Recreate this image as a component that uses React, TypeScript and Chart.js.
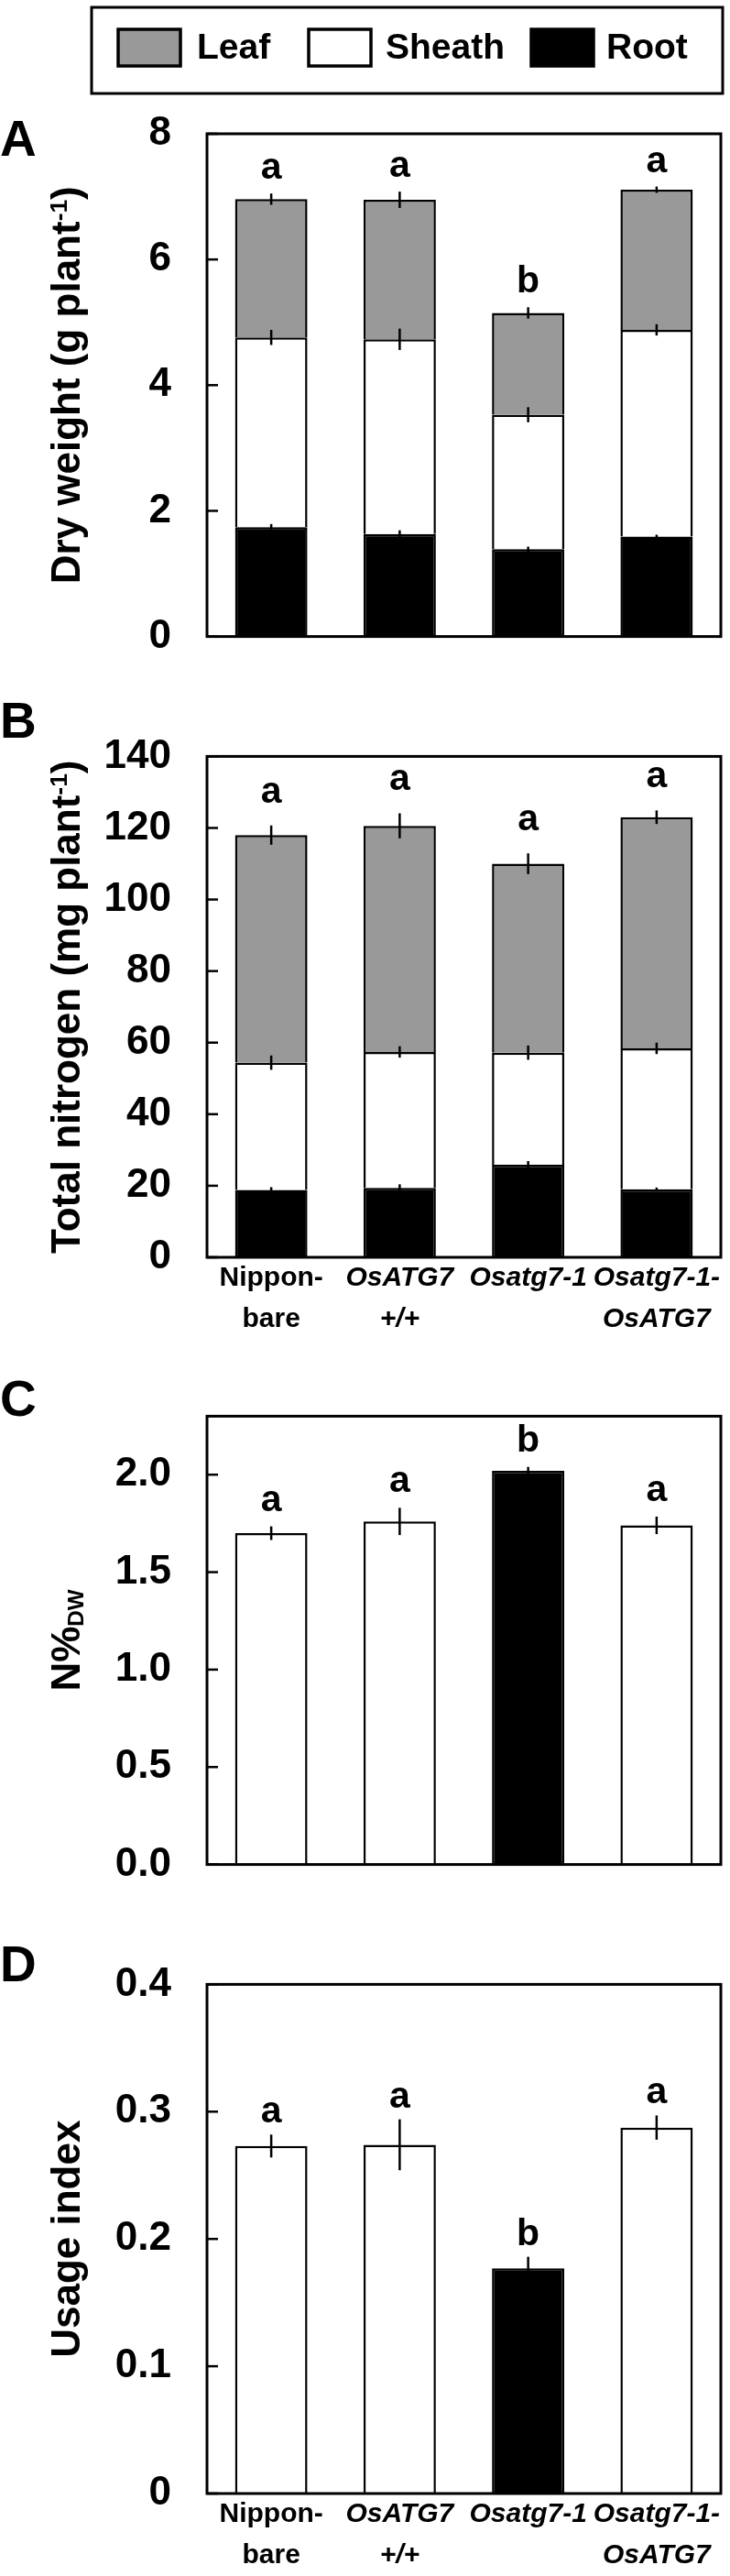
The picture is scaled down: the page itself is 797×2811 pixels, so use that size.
import React, { useEffect, useRef } from 'react';
import { Chart, registerables } from 'chart.js';

Chart.register(...registerables);

const FONT = '"Liberation Sans", Arial, Helvetica, sans-serif';

// ---------- shared categories ----------
const CATEGORIES: string[][] = [['Nippon-', 'bare'], ['OsATG7', '+/+'], ['Osatg7-1'], ['Osatg7-1-', 'OsATG7']];
const CATEGORY_ITALIC = [false, true, true, true];

const ORGANS = ['Root', 'Sheath', 'Leaf'];
const ORGAN_COLORS = ['#000000', '#ffffff', '#999999'];

// ---------- Panel A: dry weight (g plant-1) ----------
const DW_ROOT = [1.74, 1.63, 1.39, 1.59];
const DW_SHEATH = [3.02, 3.1, 2.14, 3.29];
const DW_LEAF = [2.2, 2.22, 1.62, 2.23];
const DW_ROOT_ERR = [0.05, 0.06, 0.04, 0.03];
const DW_SHEATH_ERR = [0.12, 0.17, 0.12, 0.09];
const DW_LEAF_ERR = [0.09, 0.13, 0.09, 0.05];
const DW_LETTERS = ['a', 'a', 'b', 'a'];
const DW_TICKS = [0, 2, 4, 6, 8];
const DW_TICK_LABELS = ['0', '2', '4', '6', '8'];

// ---------- Panel B: total nitrogen (mg plant-1) ----------
const TN_ROOT = [18.8, 19.4, 25.9, 19.0];
const TN_SHEATH = [35.6, 38.0, 31.3, 39.4];
const TN_LEAF = [63.6, 63.2, 52.8, 64.6];
const TN_ROOT_ERR = [0.8, 1.0, 1.0, 0.5];
const TN_SHEATH_ERR = [2.0, 1.6, 2.0, 1.6];
const TN_LEAF_ERR = [2.7, 3.5, 2.9, 1.9];
const TN_LETTERS = ['a', 'a', 'a', 'a'];
const TN_TICKS = [0, 20, 40, 60, 80, 100, 120, 140];
const TN_TICK_LABELS = ['0', '20', '40', '60', '80', '100', '120', '140'];

// ---------- Panel C: N%DW ----------
const NDW = [1.7, 1.76, 2.02, 1.74];
const NDW_ERR = [0.035, 0.07, 0.02, 0.045];
const NDW_LETTERS = ['a', 'a', 'b', 'a'];
const NDW_TICKS = [0, 0.5, 1.0, 1.5, 2.0];
const NDW_TICK_LABELS = ['0.0', '0.5', '1.0', '1.5', '2.0'];
const NDW_MAX = 2.3;

// ---------- Panel D: usage index ----------
const USAGE = [0.273, 0.274, 0.177, 0.2875];
const USAGE_ERR = [0.009, 0.02, 0.009, 0.0095];
const USAGE_LETTERS = ['a', 'a', 'b', 'a'];
const USAGE_TICKS = [0, 0.1, 0.2, 0.3, 0.4];
const USAGE_TICK_LABELS = ['0', '0.1', '0.2', '0.3', '0.4'];

const SINGLE_COLORS = ['#ffffff', '#ffffff', '#000000', '#ffffff'];

type Part = { text: string; scale?: number; shift?: number };

interface Decor {
  ticks: number[];
  errors: number[][];
  letters: string[];
  letterGap: number;
  title: Part[];
  panel: string;
  panelY: number;
  legend?: boolean;
}

function drawVerticalTitle(ctx: CanvasRenderingContext2D, parts: Part[], cx: number, cy: number, size: number) {
  ctx.save();
  ctx.translate(cx, cy);
  ctx.rotate(-Math.PI / 2);
  ctx.textAlign = 'left';
  ctx.textBaseline = 'alphabetic';
  const widths = parts.map((p) => {
    ctx.font = `bold ${size * (p.scale ?? 1)}px ${FONT}`;
    return ctx.measureText(p.text).width;
  });
  const total = widths.reduce((s, w) => s + w, 0);
  let x = -total / 2;
  const base = size * 0.35;
  parts.forEach((p, i) => {
    ctx.font = `bold ${size * (p.scale ?? 1)}px ${FONT}`;
    ctx.fillText(p.text, x, base + (p.shift ?? 0) * size);
    x += widths[i];
  });
  ctx.restore();
}

function decorPlugin(d: Decor) {
  return {
    id: 'decor',
    afterDatasetsDraw(chart: any) {
      const { ctx, chartArea: a } = chart;
      const y = chart.scales.y;
      ctx.save();
      ctx.strokeStyle = '#000';
      ctx.fillStyle = '#000';
      // error bars
      ctx.lineWidth = 2.5;
      const n = chart.data.labels.length;
      const totals: number[] = new Array(n).fill(0);
      chart.data.datasets.forEach((ds: any, k: number) => {
        const meta = chart.getDatasetMeta(k);
        ds.data.forEach((v: number, i: number) => {
          totals[i] += v;
          const e = d.errors[k][i];
          const x = meta.data[i].x;
          ctx.beginPath();
          ctx.moveTo(x, y.getPixelForValue(totals[i] + e));
          ctx.lineTo(x, y.getPixelForValue(totals[i] - e));
          ctx.stroke();
        });
      });
      // significance letters
      const lastErr = d.errors[d.errors.length - 1];
      const meta0 = chart.getDatasetMeta(0);
      ctx.font = `bold 41px ${FONT}`;
      ctx.textAlign = 'center';
      ctx.textBaseline = 'alphabetic';
      d.letters.forEach((L, i) => {
        const py = y.getPixelForValue(totals[i] + lastErr[i]) - d.letterGap;
        ctx.fillText(L, meta0.data[i].x, py);
      });
      // frame
      ctx.lineWidth = 3;
      ctx.strokeRect(a.left, a.top, a.right - a.left, a.bottom - a.top);
      // inward ticks
      ctx.lineWidth = 2.5;
      d.ticks.forEach((v) => {
        const py = y.getPixelForValue(v);
        ctx.beginPath();
        ctx.moveTo(a.left, py);
        ctx.lineTo(a.left + 12, py);
        ctx.stroke();
      });
      // axis title
      drawVerticalTitle(ctx, d.title, 72, (a.top + a.bottom) / 2, 44);
      // panel label
      ctx.font = `bold 55px ${FONT}`;
      ctx.textAlign = 'left';
      ctx.textBaseline = 'middle';
      ctx.fillText(d.panel, 0, d.panelY);
      // legend
      if (d.legend) {
        ctx.lineWidth = 3;
        ctx.strokeRect(100, 8, 689, 94);
        const swatchX = [129, 337, 580];
        const textX = [215, 421, 662];
        const items = chart.data.datasets.slice().reverse();
        items.forEach((ds: any, j: number) => {
          ctx.fillStyle = ds.backgroundColor;
          ctx.fillRect(swatchX[j], 32, 68, 40);
          ctx.strokeStyle = '#000';
          ctx.lineWidth = 3.5;
          ctx.strokeRect(swatchX[j], 32, 68, 40);
          ctx.fillStyle = '#000';
          ctx.font = `bold 39px ${FONT}`;
          ctx.textAlign = 'left';
          ctx.textBaseline = 'middle';
          ctx.fillText(ds.label, textX[j], 53);
        });
      }
      ctx.restore();
    },
  };
}

interface PanelSpec {
  datasets: { label: string; data: number[]; backgroundColor: any }[];
  stacked: boolean;
  max: number;
  ticks: number[];
  tickLabels: string[];
  showX: boolean;
  xHeight: number;
  padding: { top: number; right: number; bottom: number; left: number };
  decor: Decor;
}

function buildConfig(p: PanelSpec): any {
  return {
    type: 'bar',
    data: {
      labels: CATEGORIES,
      datasets: p.datasets.map((ds) => ({
        ...ds,
        borderColor: '#000000',
        borderWidth: 2.5,
        barPercentage: 0.563,
        categoryPercentage: 1.0,
      })),
    },
    options: {
      responsive: false,
      animation: false,
      events: [],
      layout: { padding: p.padding },
      plugins: { legend: { display: false }, tooltip: { enabled: false } },
      scales: {
        x: {
          type: 'category',
          stacked: p.stacked,
          offset: true,
          display: p.showX,
          grid: { display: false, drawTicks: false },
          border: { display: false },
          ticks: {
            autoSkip: false,
            maxRotation: 0,
            minRotation: 0,
            padding: 0,
            color: '#000',
            font: (c: any) => ({
              family: FONT,
              size: 30,
              weight: 'bold',
              style: CATEGORY_ITALIC[c.index] ? 'italic' : 'normal',
              lineHeight: 1.5,
            }),
          },
          afterFit: (s: any) => {
            if (p.showX) s.height = p.xHeight;
          },
        },
        y: {
          stacked: p.stacked,
          min: 0,
          max: p.max,
          grid: { display: false, drawTicks: false },
          border: { display: false },
          afterBuildTicks: (s: any) => {
            s.ticks = p.ticks.map((v) => ({ value: v }));
          },
          ticks: {
            padding: 39,
            color: '#000',
            font: { family: FONT, size: 44, weight: 'bold' },
            callback: (v: number) => p.tickLabels[p.ticks.indexOf(v)],
          },
          afterFit: (s: any) => {
            s.width = 226;
          },
        },
      },
    },
    plugins: [decorPlugin(p.decor)],
  };
}

function Panel({ top, height, spec }: { top: number; height: number; spec: PanelSpec }) {
  const ref = useRef<HTMLCanvasElement | null>(null);
  useEffect(() => {
    if (!ref.current) return;
    const chart = new Chart(ref.current, buildConfig(spec));
    return () => chart.destroy();
  }, []);
  return (
    <canvas
      ref={ref}
      width={797}
      height={height}
      style={{ position: 'absolute', left: 0, top, width: 797, height, display: 'block' }}
    />
  );
}

const stacked = (root: number[], sheath: number[], leaf: number[]) => [
  { label: ORGANS[0], data: root, backgroundColor: ORGAN_COLORS[0] },
  { label: ORGANS[1], data: sheath, backgroundColor: ORGAN_COLORS[1] },
  { label: ORGANS[2], data: leaf, backgroundColor: ORGAN_COLORS[2] },
];

const SPEC_A: PanelSpec = {
  datasets: stacked(DW_ROOT, DW_SHEATH, DW_LEAF),
  stacked: true,
  max: 8,
  ticks: DW_TICKS,
  tickLabels: DW_TICK_LABELS,
  showX: false,
  xHeight: 0,
  padding: { top: 146, right: 10, bottom: 28, left: 0 },
  decor: {
    ticks: DW_TICKS,
    errors: [DW_ROOT_ERR, DW_SHEATH_ERR, DW_LEAF_ERR],
    letters: DW_LETTERS,
    letterGap: 16,
    title: [{ text: 'Dry weight (g plant' }, { text: '-1', scale: 0.6, shift: -0.32 }, { text: ')' }],
    panel: 'A',
    panelY: 155,
    legend: true,
  },
};

const SPEC_B: PanelSpec = {
  datasets: stacked(TN_ROOT, TN_SHEATH, TN_LEAF),
  stacked: true,
  max: 140,
  ticks: TN_TICKS,
  tickLabels: TN_TICK_LABELS,
  showX: true,
  xHeight: 100,
  padding: { top: 30, right: 10, bottom: 8, left: 0 },
  decor: {
    ticks: TN_TICKS,
    errors: [TN_ROOT_ERR, TN_SHEATH_ERR, TN_LEAF_ERR],
    letters: TN_LETTERS,
    letterGap: 25,
    title: [{ text: 'Total nitrogen (mg plant' }, { text: '-1', scale: 0.6, shift: -0.32 }, { text: ')' }],
    panel: 'B',
    panelY: 30,
  },
};

const SPEC_C: PanelSpec = {
  datasets: [{ label: 'N%DW', data: NDW, backgroundColor: SINGLE_COLORS }],
  stacked: false,
  max: NDW_MAX,
  ticks: NDW_TICKS,
  tickLabels: NDW_TICK_LABELS,
  showX: false,
  xHeight: 0,
  padding: { top: 26, right: 10, bottom: 19, left: 0 },
  decor: {
    ticks: NDW_TICKS,
    errors: [NDW_ERR],
    letters: NDW_LETTERS,
    letterGap: 17,
    title: [{ text: 'N%' }, { text: 'DW', scale: 0.55, shift: 0.08 }],
    panel: 'C',
    panelY: 50,
  },
};

const SPEC_D: PanelSpec = {
  datasets: [{ label: 'Usage index', data: USAGE, backgroundColor: SINGLE_COLORS }],
  stacked: false,
  max: 0.4,
  ticks: USAGE_TICKS,
  tickLabels: USAGE_TICK_LABELS,
  showX: true,
  xHeight: 85,
  padding: { top: 47, right: 10, bottom: 5, left: 0 },
  decor: {
    ticks: USAGE_TICKS,
    errors: [USAGE_ERR],
    letters: USAGE_LETTERS,
    letterGap: 13,
    title: [{ text: 'Usage index' }],
    panel: 'D',
    panelY: 47,
  },
};

export default function App() {
  return (
    <div style={{ position: 'absolute', left: 0, top: 0, width: 797, height: 2811, background: '#fff' }}>
      <Panel top={0} height={760} spec={SPEC_A} />
      <Panel top={760} height={720} spec={SPEC_B} />
      <Panel top={1480} height={620} spec={SPEC_C} />
      <Panel top={2100} height={711} spec={SPEC_D} />
    </div>
  );
}
